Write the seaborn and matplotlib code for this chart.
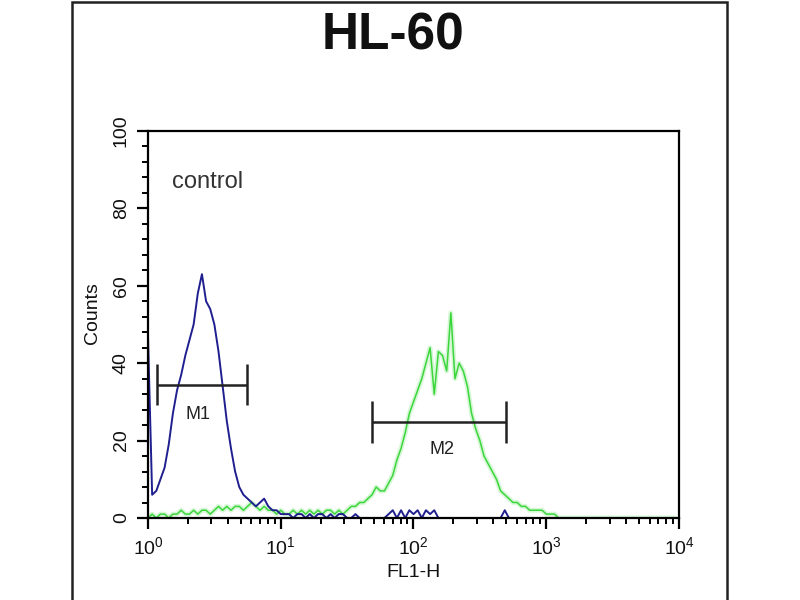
import numpy as np
import pandas as pd
import matplotlib
matplotlib.use("Agg")
import matplotlib.pyplot as plt
import matplotlib.ticker as mticker
from matplotlib.patches import Rectangle
import seaborn as sns

# histogram counts per channel (32 channels per decade, channel 0 = 10^0)
control_counts = [47, 6, 7, 10, 13, 19, 27, 33, 37, 42, 46, 50, 58, 63, 56, 54,
                  50, 43, 34, 25, 18, 12, 8, 6, 5, 4, 3, 4, 5, 3, 2, 2,
                  1, 1, 1, 0, 1, 1, 0, 1, 0, 1, 1, 0, 1, 0, 1, 1,
                  0, 0, 1, 0, 0, 0, 0, 0, 0, 0, 1, 2, 0, 2, 0, 2,
                  1, 2, 0, 2, 1, 2, 0, 0, 0, 0, 0, 0, 0, 0, 0, 0,
                  0, 0, 0, 0, 0, 0, 2, 0, 0, 0, 0, 0, 0, 0, 0, 0, 0]
sample_counts = [0, 1, 0, 1, 1, 0, 1, 1, 2, 1, 1, 2, 1, 2, 2, 1,
                 2, 3, 2, 3, 2, 3, 3, 2, 3, 4, 3, 2, 3, 2, 2, 1,
                 2, 1, 1, 2, 1, 2, 1, 2, 1, 2, 1, 2, 2, 1, 2, 1,
                 2, 3, 3, 4, 4, 5, 6, 8, 7, 7, 9, 11, 15, 18, 22, 27,
                 30, 33, 36, 40, 44, 32, 43, 42, 38, 53, 36, 40, 38, 34, 27, 23,
                 20, 16, 14, 12, 10, 7, 6, 5, 4, 4, 3, 3, 2, 2, 2, 2,
                 1, 1, 1, 0, 0, 0, 0, 0, 0, 0, 0, 0, 0, 0, 0, 0,
                 0, 0, 0, 0, 0, 0, 0, 0, 0, 0, 0, 0, 0, 0, 0, 0]
channels_per_decade = 32

# marker gates (FL1-H range, height in counts)
m1_range = (1.17, 5.6)
m1_level = 34.4
m2_range = (49, 494)
m2_level = 24.8

control_df = pd.DataFrame({
    "FL1-H": 10 ** (np.arange(len(control_counts)) / channels_per_decade),
    "Counts": control_counts})
sample_df = pd.DataFrame({
    "FL1-H": 10 ** (np.arange(len(sample_counts)) / channels_per_decade),
    "Counts": sample_counts})

sns.set_style("white")
plt.rcParams["font.family"] = ["Liberation Sans", "DejaVu Sans"]
plt.rcParams["mathtext.fontset"] = "custom"
plt.rcParams["mathtext.rm"] = "Liberation Sans"

fig = plt.figure(figsize=(8, 6), dpi=100)
ax = fig.add_axes([0.185, 0.1367, 0.66375, 0.645])
ax.set_xscale("log")

# green sample histogram with a soft glow, then blue control on top
sns.lineplot(data=sample_df, x="FL1-H", y="Counts", ax=ax, color="#8aea8a",
             linewidth=3.5, alpha=0.35, estimator=None)
sns.lineplot(data=sample_df, x="FL1-H", y="Counts", ax=ax, color="#3cd63c",
             linewidth=1.1, estimator=None)
sns.lineplot(data=control_df, x="FL1-H", y="Counts", ax=ax, color="#1f1f8f",
             linewidth=1.4, estimator=None)

# marker bars
for (lo, hi), lvl in [(m1_range, m1_level), (m2_range, m2_level)]:
    ax.hlines(lvl, lo, hi, color="#222222", linewidth=1.8)
    ax.vlines([lo, hi], lvl - 5.3, lvl + 5.3, color="#222222", linewidth=1.8)
ax.text(2.36, 26.7, "M1", ha="center", va="center", fontsize=13, color="#222222")
ax.text(164, 17.6, "M2", ha="center", va="center", fontsize=13, color="#222222")

ax.text(0.045, 0.853, "control", transform=ax.transAxes, ha="left",
        va="baseline", fontsize=17, color="#333333")

ax.set_xlim(1, 1e4)
ax.set_ylim(0, 100)
ax.yaxis.set_major_locator(mticker.MultipleLocator(20))
ax.yaxis.set_minor_locator(mticker.MultipleLocator(4))
ax.xaxis.set_major_locator(mticker.LogLocator(base=10, numticks=10))
ax.xaxis.set_minor_locator(mticker.LogLocator(base=10, subs=np.arange(2, 10), numticks=20))
ax.tick_params(which="major", direction="out", length=8, width=1.6, color="black",
               labelsize=14, labelcolor="#111111", bottom=True, left=True)
ax.tick_params(which="minor", direction="out", length=4, width=1.4, color="black",
               bottom=True, left=True)
ax.tick_params(axis="y", which="major", pad=5)
ax.tick_params(axis="x", which="major", pad=5)
for lab in ax.get_yticklabels():
    lab.set_rotation(90)
    lab.set_va("center")

for side in ["left", "bottom", "right", "top"]:
    ax.spines[side].set_visible(True)
    ax.spines[side].set_color("black")
    ax.spines[side].set_linewidth(1.6)

ax.set_xlabel("FL1-H", fontsize=14, color="#111111")
ax.set_ylabel("Counts", fontsize=14, color="#111111")
ax.xaxis.set_label_coords(0.5, -0.12)
ax.yaxis.set_label_coords(-0.088, 0.53)

fig.text(393 / 800, 1 - 50 / 600, "HL-60", ha="center", va="baseline",
         fontsize=37, fontweight="bold", color="#111111")

# outer image frame
fig.patches.append(Rectangle((72 / 800, -0.02), (727 - 72) / 800, 1.0166,
                             transform=fig.transFigure, fill=False,
                             edgecolor="#222222", linewidth=1.8))

fig.savefig("out.png", dpi=100)
